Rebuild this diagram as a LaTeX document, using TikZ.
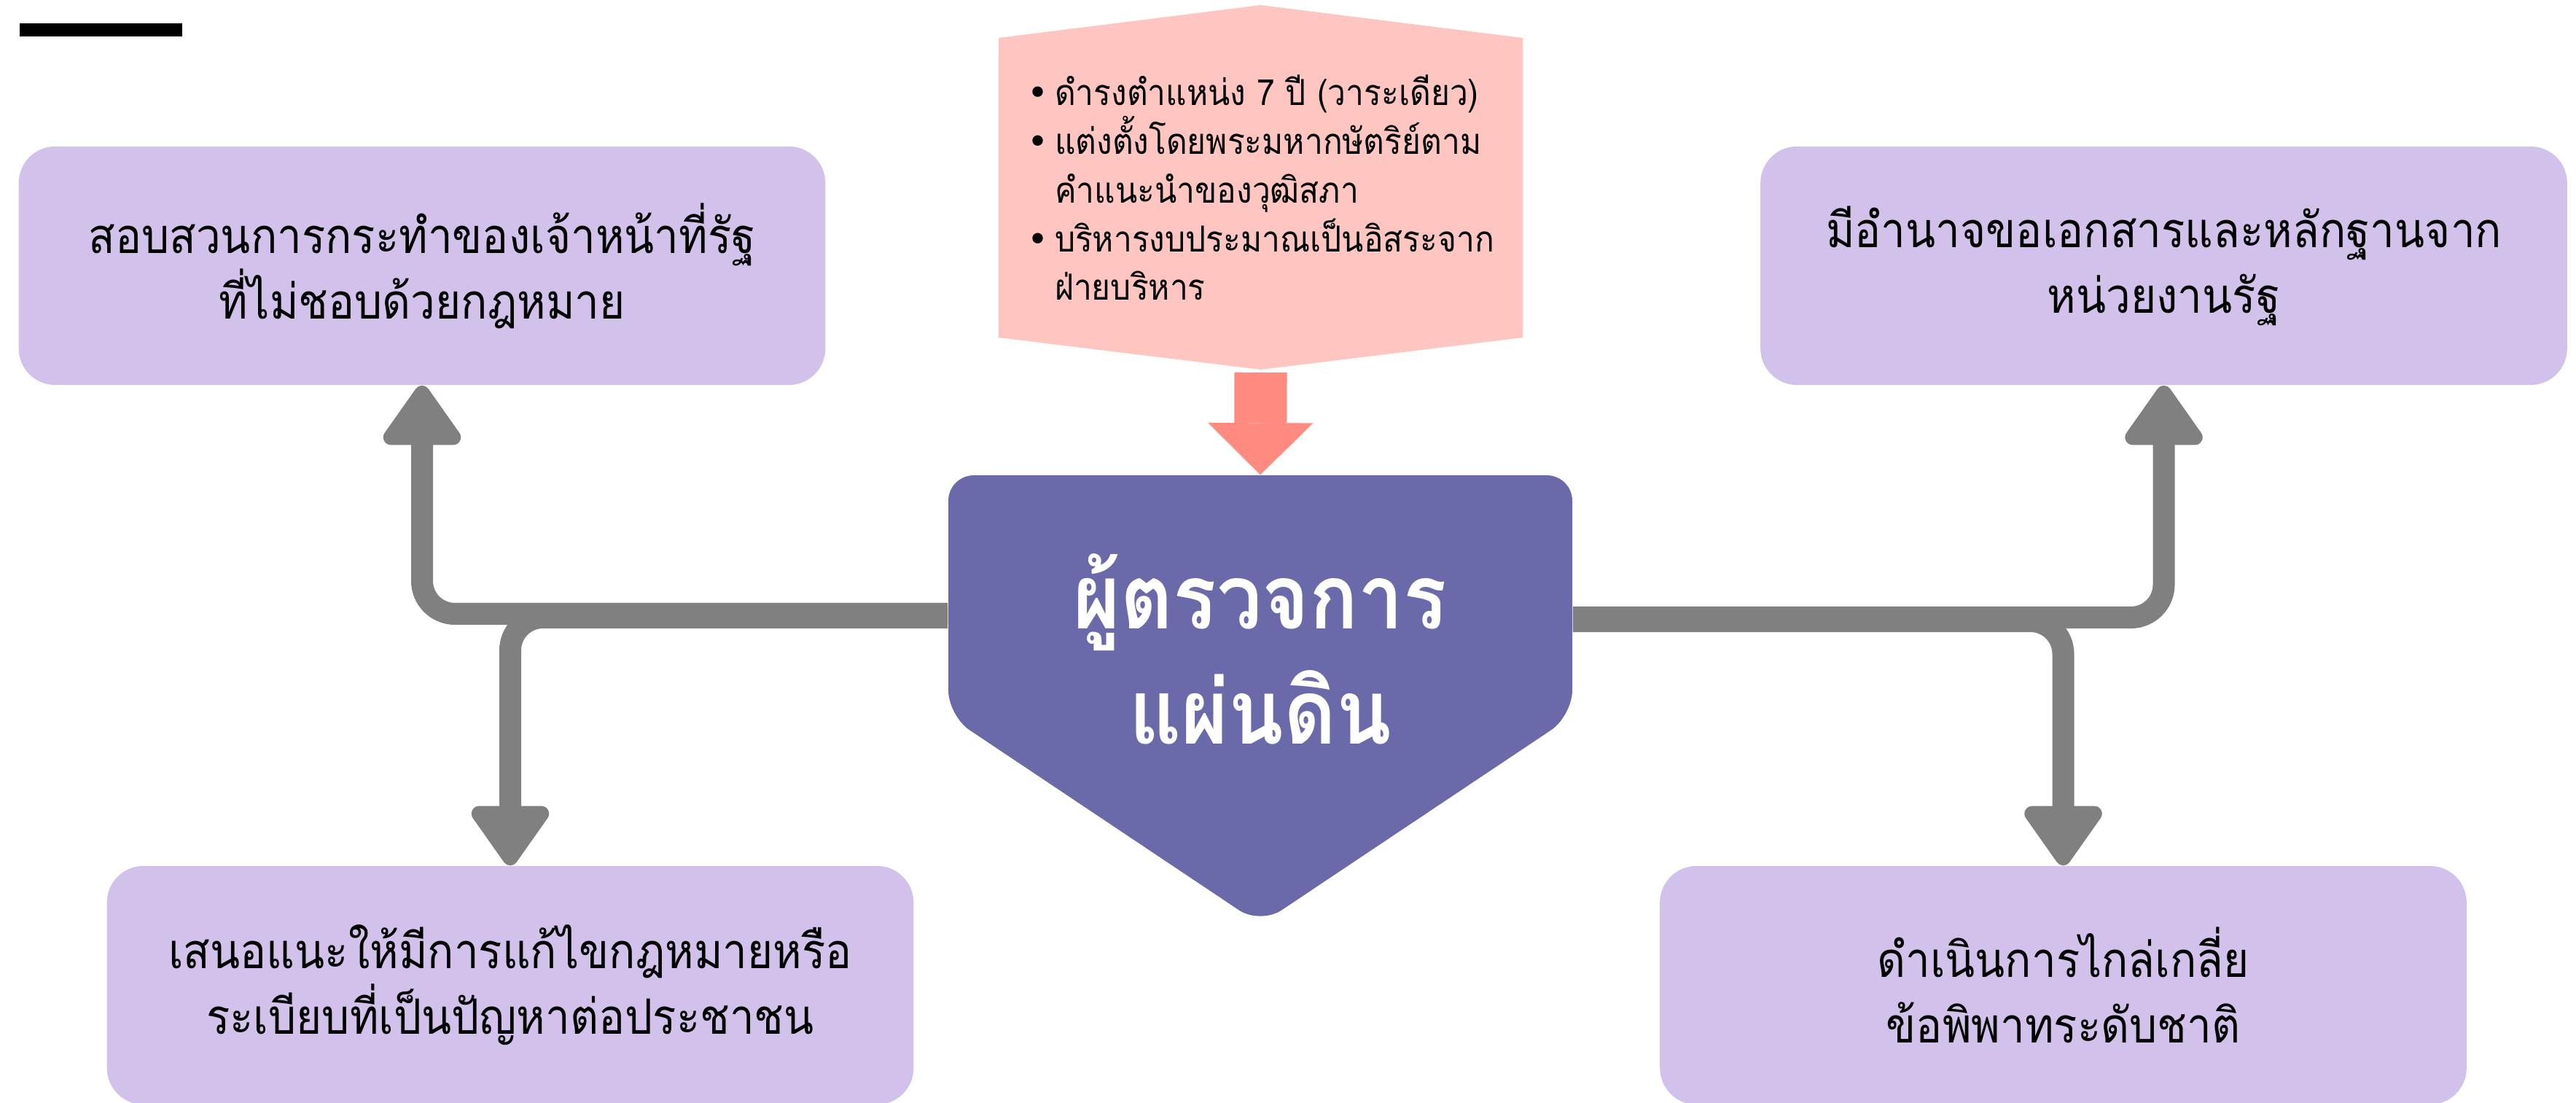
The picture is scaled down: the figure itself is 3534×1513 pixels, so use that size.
\documentclass[tikz,border=0pt]{standalone}
\usepackage{fontspec}
\newfontfamily\thaifont[Script=Thai,FakeStretch=0.9]{Loma}
\newfontfamily\symfont{DejaVu Sans}
\usetikzlibrary{arrows.meta,calc}

\definecolor{lavender}{HTML}{D1C1EB}
\definecolor{ombudblue}{HTML}{6A6AAB}
\definecolor{termpink}{HTML}{FFC5C0}
\definecolor{salmon}{HTML}{FF8A80}
\definecolor{linkgray}{HTML}{808080}

\newcommand{\dotitem}{\makebox[0.38cm][l]{\symfont •}}
\newcommand{\dotskip}{\hspace*{0.38cm}}

\begin{document}
\begin{tikzpicture}[x=0.01cm,y=-0.01cm,
	duty/.style={rounded corners=0.5cm,fill=lavender,minimum width=11.06cm,minimum height=3.27cm,align=center,font=\thaifont\fontsize{19pt}{25.6pt}\selectfont},
	link/.style={draw=linkgray,line width=0.3cm,rounded corners=0.45cm,-{Triangle[length=0.9cm,width=1.2cm,round,line width=6pt]}},
	terms/.style={minimum width=7.19cm,minimum height=4.11cm,align=left,font=\thaifont\fontsize{14pt}{19pt}\selectfont}]

	\useasboundingbox (0,0) rectangle (3534,1513);
	\fill (27,32) rectangle (250,50);

	% pink shield behind the list
	\fill[termpink] (1370,52) -- (1729.5,7) -- (2089,52) -- (2089,463) -- (1729.5,507) -- (1370,463) -- cycle;
	\node[terms] (terms) at (1729.5,257.5) {\dotitem ดำรงตำแหน่ง 7 ปี (วาระเดียว)\\ \dotitem แต่งตั้งโดยพระมหากษัตริย์ตาม\\ \dotskip คำแนะนำของวุฒิสภา\\ \dotitem บริหารงบประมาณเป็นอิสระจาก\\ \dotskip ฝ่ายบริหาร};

	\node[minimum width=8.56cm,minimum height=3.9cm] (ombud) at (1729,847) {};
	\fill[ombudblue,rounded corners=0.35cm] (1301,800) -- (1301,652) -- (2157,652) -- (2157,982) -- (1729,1268) -- (1301,982) -- cycle;
	\node[text=white,align=center,font=\thaifont\bfseries\fontsize{35pt}{45pt}\selectfont] (title) at (1729,890) {ผู้ตรวจการ\\แผ่นดิน};

	\draw[salmon,line width=0.72cm,-{Triangle[length=0.71cm,width=1.44cm,line width=0.1pt]}] ([yshift=-0.47cm]terms.south) -- (ombud.north);

	\node[duty] (probe) at (579,364.5) {สอบสวนการกระทำของเจ้าหน้าที่รัฐ\\ที่ไม่ชอบด้วยกฎหมาย};
	\node[duty] (evidence) at (2968.5,364.5) {มีอำนาจขอเอกสารและหลักฐานจาก\\หน่วยงานรัฐ};
	\node[duty] (reform) at (700,1351.5) {เสนอแนะให้มีการแก้ไขกฎหมายหรือ\\ระเบียบที่เป็นปัญหาต่อประชาชน};
	\node[duty] (mediate) at (2830.5,1351.5) {ดำเนินการไกล่เกลี่ย\\ข้อพิพาทระดับชาติ};

	\draw[link] ([yshift=0.05cm]ombud.west) -| (probe.south);
	\draw[link] ([yshift=0cm]ombud.west) -| (reform.north);
	\draw[link] ([yshift=0cm]ombud.east) -| (evidence.south);
	\draw[link] ([yshift=-0.05cm]ombud.east) -| (mediate.north);

\end{tikzpicture}
\end{document}
